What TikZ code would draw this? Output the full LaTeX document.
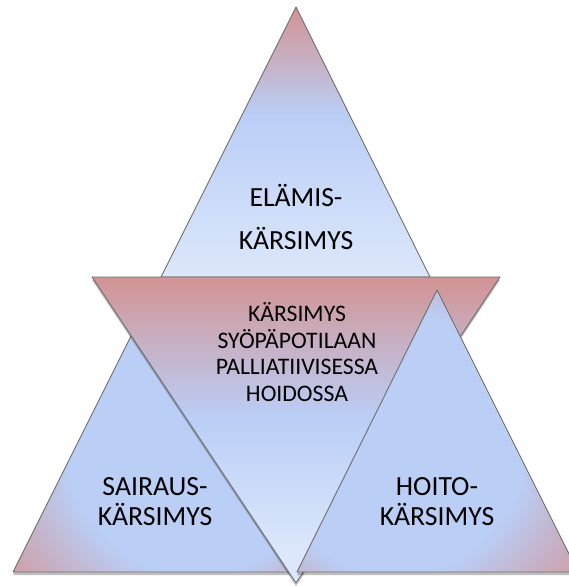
\documentclass[tikz,border=0pt]{standalone}
\usepackage{fontspec}
\setmainfont{Carlito}
\usetikzlibrary{shadows}
\definecolor{rosered}{HTML}{D39393}
\definecolor{skyblue}{HTML}{BACEF6}
\definecolor{paleblue}{HTML}{DCE7FB}
\definecolor{edgegray}{HTML}{6E6E6E}
\colorlet{mauve}{skyblue!50!rosered}
\pgfdeclareverticalshading{topfade}{100bp}{color(0bp)=(paleblue); color(25bp)=(paleblue); color(55bp)=(skyblue); color(65bp)=(mauve); color(75bp)=(rosered); color(100bp)=(rosered)}
\pgfdeclareverticalshading{midfade}{100bp}{color(0bp)=(paleblue); color(30bp)=(paleblue); color(52bp)=(skyblue); color(64bp)=(mauve); color(75bp)=(rosered); color(100bp)=(rosered)}
\pgfdeclareradialshading{leftglow}{\pgfpoint{12bp}{-4bp}}{color(0bp)=(skyblue); color(23bp)=(skyblue); color(32bp)=(mauve); color(42bp)=(rosered); color(60bp)=(rosered)}
\pgfdeclareradialshading{rightglow}{\pgfpoint{-12bp}{-4bp}}{color(0bp)=(skyblue); color(23bp)=(skyblue); color(32bp)=(mauve); color(42bp)=(rosered); color(60bp)=(rosered)}

\begin{document}
\begin{tikzpicture}[x=1pt,y=-1pt,
  tri/.style={draw=edgegray,line width=0.9pt,line join=round},
  tridrop/.style={drop shadow={shadow xshift=0pt,shadow yshift=-3pt,opacity=0.25,fill=black}},
  biglabel/.style={align=center,inner sep=0pt,font=\fontsize{27.7}{30}\selectfont},
  toplabel/.style={biglabel,font=\fontsize{27.7}{43}\selectfont},
  midlabel/.style={align=center,inner sep=0pt,font=\fontsize{23.7}{26.7}\selectfont}]
\useasboundingbox (0,0) rectangle (569,586);
% triangles, back to front
\shade[tri,shading=topfade] (296,7) -- (161,277) -- (430,277) -- cycle;
\shade[tri,tridrop,shading=leftglow] (154,290) -- (13,572) -- (295,572) -- cycle;
\shade[tri,tridrop,shading=midfade] (92,277) -- (500,277) -- (296,583) -- cycle;
\shade[tri,tridrop,shading=rightglow] (437,290) -- (297,572) -- (578,572) -- cycle;
% labels
\node[toplabel] (life) at (296,216.6) {ELÄMIS-\\KÄRSIMYS};
\node[midlabel] (core) at (297,352) {KÄRSIMYS\\SYÖPÄPOTILAAN\\PALLIATIIVISESSA\\HOIDOSSA};
\node[biglabel] (illness) at (155,502) {SAIRAUS-\\KÄRSIMYS};
\node[biglabel] (care) at (437,502) {HOITO-\\KÄRSIMYS};
\end{tikzpicture}
\end{document}
